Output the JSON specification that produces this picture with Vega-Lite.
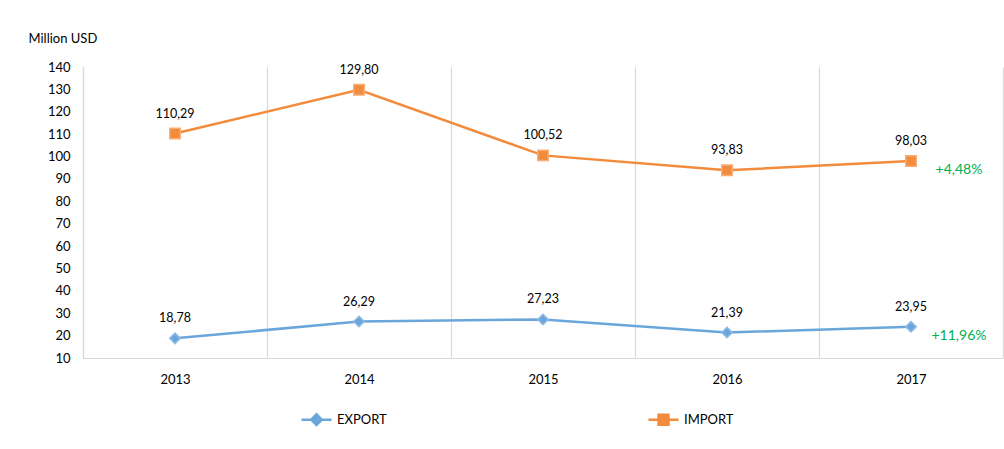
{
  "$schema": "https://vega.github.io/schema/vega-lite/v6.json",
  "width": 920,
  "height": 291,
  "autosize": {"type": "none"},
  "padding": {"left": 83, "top": 67, "right": 1, "bottom": 91},
  "background": "white",
  "config": {
    "font": "Lato",
    "view": {"stroke": null},
    "axis": {"labelFont": "Lato", "titleFont": "Lato"},
    "legend": {"labelFont": "Lato"}
  },
  "data": {
    "values": [
      {"year": "2013", "series": "EXPORT", "value": 18.78, "label": "18,78", "change": null},
      {"year": "2014", "series": "EXPORT", "value": 26.29, "label": "26,29", "change": null},
      {"year": "2015", "series": "EXPORT", "value": 27.23, "label": "27,23", "change": null},
      {"year": "2016", "series": "EXPORT", "value": 21.39, "label": "21,39", "change": null},
      {"year": "2017", "series": "EXPORT", "value": 23.95, "label": "23,95", "change": "+11,96%"},
      {"year": "2013", "series": "IMPORT", "value": 110.29, "label": "110,29", "change": null},
      {"year": "2014", "series": "IMPORT", "value": 129.80, "label": "129,80", "change": null},
      {"year": "2015", "series": "IMPORT", "value": 100.52, "label": "100,52", "change": null},
      {"year": "2016", "series": "IMPORT", "value": 93.83, "label": "93,83", "change": null},
      {"year": "2017", "series": "IMPORT", "value": 98.03, "label": "98,03", "change": "+4,48%"}
    ]
  },
  "encoding": {
    "x": {
      "field": "year", "type": "ordinal",
      "scale": {"paddingInner": 0, "paddingOuter": 0},
      "axis": {
        "title": null, "labelAngle": 0, "tickBand": "extent", "grid": true,
        "gridColor": "#d9d9d9", "gridWidth": 1.2, "ticks": false,
        "domainColor": "#d9d9d9", "domainWidth": 1.2,
        "labelFontSize": 13, "labelColor": "#000000", "labelPadding": 15
      }
    },
    "y": {
      "field": "value", "type": "quantitative",
      "scale": {"domain": [10, 140], "nice": false, "zero": false},
      "axis": {
        "title": "Million USD", "titleAngle": 0, "titleAlign": "left",
        "titleBaseline": "middle", "titleX": -55, "titleY": -29,
        "titleFontSize": 13, "titleFontWeight": "normal", "titleColor": "#000000",
        "values": [10, 20, 30, 40, 50, 60, 70, 80, 90, 100, 110, 120, 130, 140],
        "grid": false, "ticks": false, "domainColor": "#d9d9d9", "domainWidth": 1.2,
        "labelFontSize": 13, "labelColor": "#000000", "labelPadding": 13
      }
    }
  },
  "layer": [
    {
      "mark": {"type": "line", "strokeWidth": 2.5},
      "encoding": {
        "color": {
          "field": "series", "type": "nominal",
          "scale": {"domain": ["EXPORT", "IMPORT"], "range": ["#6aa6da", "#f28b3b"]},
          "legend": {
            "title": null, "orient": "none", "direction": "horizontal",
            "legendX": 217, "legendY": 336, "columnPadding": 256,
            "symbolType": "M-1,0H1M-0.35,0L0,-0.35L0.35,0L0,0.35Z",
            "symbolSize": 900, "symbolStrokeWidth": 2.5,
            "labelFontSize": 13, "labelColor": "#000000", "labelOffset": 4,
            "encode": {"symbols": {"update": {
              "fill": {"scale": "color", "field": "value"},
              "shape": [
                {"test": "datum.value == 'IMPORT'", "value": "M-1,0H1M-0.33,-0.33H0.33V0.33H-0.33Z"},
                {"value": "M-1,0H1M-0.35,0L0,-0.35L0.35,0L0,0.35Z"}
              ]
            }}}
          }
        }
      }
    },
    {
      "transform": [{"filter": "datum.series == 'EXPORT'"}],
      "mark": {"type": "point", "shape": "diamond", "filled": true, "opacity": 1, "size": 110, "strokeWidth": 1.5, "color": "#6aa6da", "stroke": "#8dbbe6"}
    },
    {
      "transform": [{"filter": "datum.series == 'IMPORT'"}],
      "mark": {"type": "point", "shape": "square", "filled": true, "opacity": 1, "size": 110, "strokeWidth": 1.5, "color": "#f28b3b", "stroke": "#f7ad78"}
    },
    {
      "mark": {"type": "text", "dy": -20, "fontSize": 12.5, "color": "#000000", "baseline": "middle"},
      "encoding": {"text": {"field": "label"}}
    },
    {
      "transform": [{"filter": "datum.change != null"}],
      "mark": {"type": "text", "dx": 48, "dy": 9, "fontSize": 14, "baseline": "middle", "align": "center", "color": "#00b050"},
      "encoding": {"text": {"field": "change"}}
    }
  ]
}
